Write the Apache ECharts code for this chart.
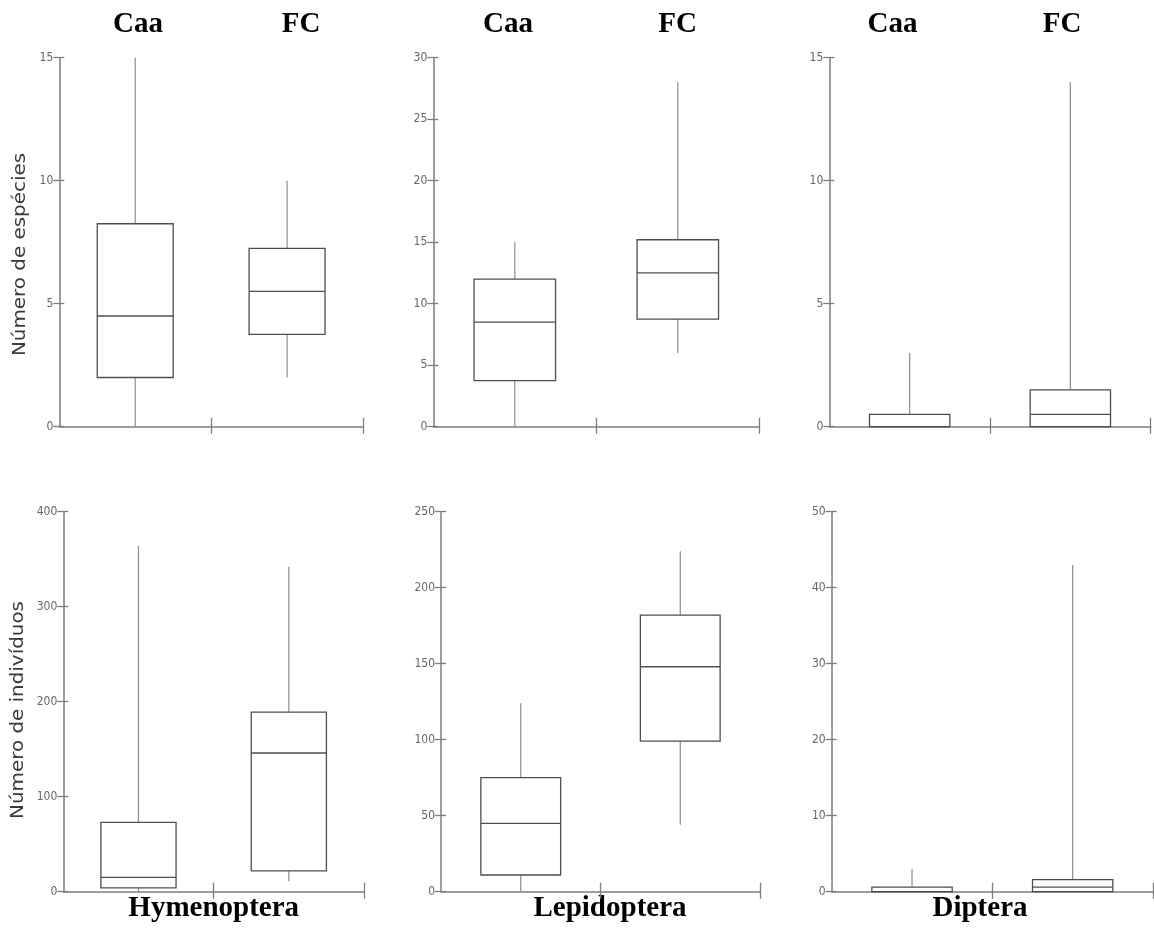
<!DOCTYPE html>
<html>
<head>
<meta charset="utf-8">
<script src="https://cdn.jsdelivr.net/npm/echarts@6/dist/echarts.min.js"></script>
<style>html,body{margin:0;padding:0;background:#fff}#c{width:1154px;height:929px}</style>
</head>
<body>
<div id="c"></div>
<script>
// ---- data ----
const categories = ['Caa', 'FC'];
const groups = ['Hymenoptera', 'Lepidoptera', 'Diptera'];
const yTitles = ['Número de espécies', 'Número de indivíduos'];
// [min, Q1, median, Q3, max] per category
const hymSpecies = [[0, 2, 4.5, 8.25, 15], [2, 3.75, 5.5, 7.25, 10]];
const lepSpecies = [[0, 3.75, 8.5, 12, 15], [6, 8.75, 12.5, 15.2, 28]];
const dipSpecies = [[0, 0, 0, 0.5, 3], [0, 0, 0.5, 1.5, 14]];
const hymIndividuals = [[0, 4, 15, 73, 364], [11, 22, 146, 189, 342]];
const lepIndividuals = [[0, 11, 45, 75, 124], [44, 99, 148, 182, 224]];
const dipIndividuals = [[0, 0, 0, 0.6, 3], [0, 0, 0.6, 1.6, 43]];
const yMax = [15, 30, 15, 400, 250, 50];
const yInterval = [5, 5, 5, 100, 50, 10];

const panelData = [hymSpecies, lepSpecies, dipSpecies, hymIndividuals, lepIndividuals, dipIndividuals];
const grids = [
  {left: 59.3, top: 57.7, width: 303.7, height: 369},
  {left: 433.3, top: 57.7, width: 326, height: 369},
  {left: 829.3, top: 57.7, width: 321.4, height: 369},
  {left: 63.3, top: 511.7, width: 300.7, height: 380},
  {left: 441, top: 511.7, width: 319, height: 380},
  {left: 831.7, top: 511.7, width: 321.3, height: 380}
];

const AXIS = '#7d7d7d';
const BOX = '#4f4f4f';
const WHISK = '#8c8c8c';
const tickFont = "'Liberation Sans Narrow','DejaVu Sans Condensed','Liberation Sans',sans-serif";

function renderBox(params, api) {
  const c = api.value(0);
  const mn = api.coord([c, api.value(1)]);
  const q1 = api.coord([c, api.value(2)]);
  const md = api.coord([c, api.value(3)]);
  const q3 = api.coord([c, api.value(4)]);
  const mx = api.coord([c, api.value(5)]);
  const w = api.size([1, 0])[0] * 0.5;
  const cx = q1[0];
  const children = [];
  if (mx[1] < q3[1]) children.push({type: 'line', shape: {x1: cx, y1: q3[1], x2: cx, y2: mx[1]}, style: {stroke: WHISK, lineWidth: 1.2}});
  if (mn[1] > q1[1]) children.push({type: 'line', shape: {x1: cx, y1: q1[1], x2: cx, y2: mn[1]}, style: {stroke: WHISK, lineWidth: 1.2}});
  children.push({type: 'rect', shape: {x: cx - w / 2, y: q3[1], width: w, height: q1[1] - q3[1]}, style: {fill: '#fff', stroke: BOX, lineWidth: 1.3}});
  children.push({type: 'line', shape: {x1: cx - w / 2, y1: md[1], x2: cx + w / 2, y2: md[1]}, style: {stroke: BOX, lineWidth: 1.3}});
  return {type: 'group', children: children};
}

const xAxis = [], yAxis = [], series = [];
grids.forEach((g, i) => {
  xAxis.push({
    type: 'category', gridIndex: i, data: categories, position: 'bottom', boundaryGap: true,
    axisLine: {show: true, lineStyle: {color: AXIS, width: 1.5}},
    axisTick: {show: false}, axisLabel: {show: false}, splitLine: {show: false}
  });
  [false, true].forEach(inside => {
    xAxis.push({
      type: 'value', gridIndex: i, min: 0, max: 2, interval: 1, position: 'bottom',
      axisLine: {show: false},
      axisTick: {show: true, inside: inside, length: inside ? 9 : 7, customValues: [1, 2], lineStyle: {color: AXIS, width: 1.3}},
      axisLabel: {show: false}, splitLine: {show: false}
    });
  });
  yAxis.push({
    type: 'value', gridIndex: i, min: 0, max: yMax[i], interval: yInterval[i], position: 'left',
    axisLine: {show: true, lineStyle: {color: AXIS, width: 1.5}},
    axisTick: {show: true, inside: false, length: 6, lineStyle: {color: AXIS, width: 1.3}},
    axisLabel: {show: true, margin: 6, color: '#666', fontSize: 12, fontFamily: tickFont},
    splitLine: {show: false}
  });
  yAxis.push({
    type: 'value', gridIndex: i, min: 0, max: yMax[i], interval: yInterval[i], position: 'left',
    axisLine: {show: false},
    axisTick: {show: true, inside: true, length: 5, lineStyle: {color: AXIS, width: 1.3}},
    axisLabel: {show: false}, splitLine: {show: false}
  });
  series.push({
    type: 'custom', xAxisIndex: i * 3, yAxisIndex: i * 2,
    renderItem: renderBox,
    encode: {x: 0, y: [1, 2, 3, 4, 5]},
    data: panelData[i].map((d, k) => [k].concat(d)),
    silent: true
  });
});

const titleFont = "bold 29px 'Liberation Serif','Times New Roman',serif";
const topTitleX = [[138, 301], [508, 677.5], [892.5, 1062]];
const graphic = [];
topTitleX.forEach(pair => pair.forEach((x, k) => {
  graphic.push({type: 'text', x: x, y: 25, style: {text: categories[k], font: titleFont, fill: '#000', textAlign: 'center', textVerticalAlign: 'middle'}});
}));
[213.7, 610, 980].forEach((x, k) => {
  graphic.push({type: 'text', x: x, y: 909, style: {text: groups[k], font: titleFont, fill: '#000', textAlign: 'center', textVerticalAlign: 'middle'}});
});
[[20.5, 254.5], [18.5, 710]].forEach((p, k) => {
  graphic.push({type: 'text', x: p[0], y: p[1], rotation: Math.PI / 2, scaleX: 1.17,
    style: {text: yTitles[k], font: "17px 'DejaVu Sans',sans-serif", fill: '#3a3a3a', textAlign: 'center', textVerticalAlign: 'middle'}});
});

const chart = echarts.init(document.getElementById('c'), null, {renderer: 'canvas'});
chart.setOption({
  animation: false,
  backgroundColor: '#fff',
  grid: grids.map(g => Object.assign({containLabel: false}, g)),
  xAxis: xAxis,
  yAxis: yAxis,
  series: series,
  graphic: graphic
});
</script>
</body>
</html>
